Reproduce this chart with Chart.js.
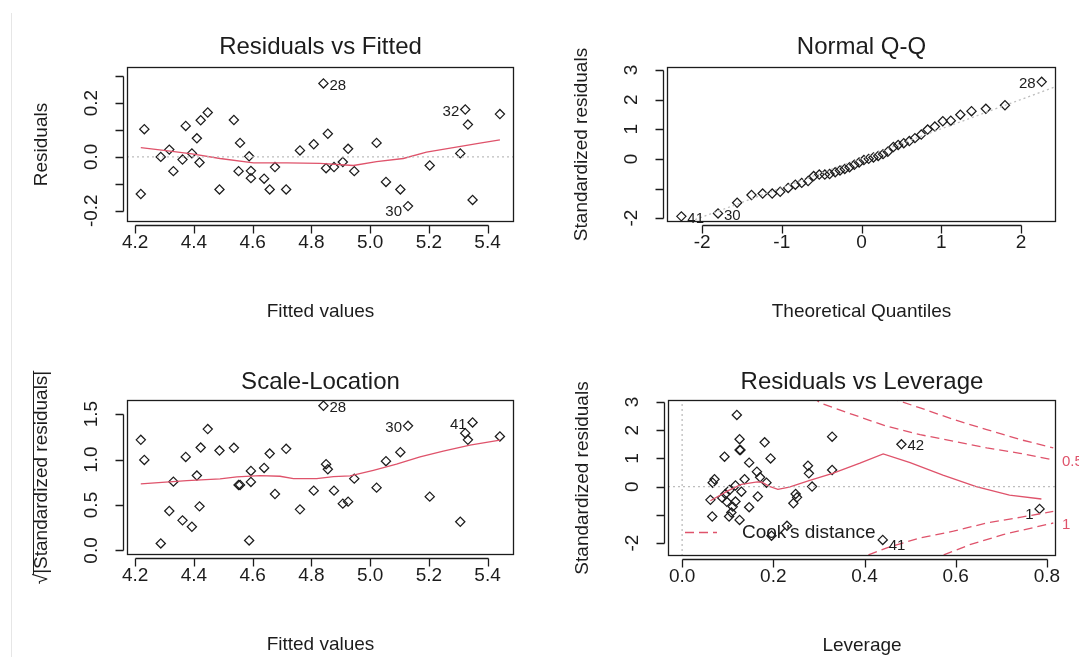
<!DOCTYPE html>
<html>
<head>
<meta charset="utf-8">
<title>lm diagnostics</title>
<script src="https://cdn.jsdelivr.net/npm/chart.js@4.4.1/dist/chart.umd.min.js"></script>
<style>
  body { margin: 0; background: #fff; }
  #page { position: relative; width: 1079px; height: 657px; overflow: hidden; background: #fff; }
  #edge { position: absolute; left: 11px; top: 13px; bottom: 0; width: 1px; background: #e6e6e6; }
  canvas { position: absolute; }
</style>
</head>
<body>
<div id="page">
  <div id="edge"></div>
  <canvas id="rvf" width="540" height="330" style="left:0;top:0"></canvas>
  <canvas id="qq" width="539" height="330" style="left:540px;top:0"></canvas>
  <canvas id="sl" width="540" height="327" style="left:0;top:330px"></canvas>
  <canvas id="lev" width="539" height="327" style="left:540px;top:330px"></canvas>
</div>
<script>
// ---- Residuals vs Fitted ----
const fitted = [4.219, 4.231, 4.287, 4.316, 4.330, 4.361, 4.372, 4.393, 4.410, 4.419, 4.423, 4.447, 4.487, 4.536,
  4.552, 4.557, 4.588, 4.594, 4.594, 4.639, 4.658, 4.676, 4.714, 4.761, 4.808, 4.841, 4.850, 4.856, 4.877, 4.907,
  4.925, 4.946, 5.022, 5.054, 5.103, 5.129, 5.203, 5.307, 5.324, 5.333, 5.349, 5.442];
const residuals = [-0.138, 0.103, 0.000, 0.027, -0.053, -0.010, 0.115, 0.013, 0.069, -0.021, 0.136, 0.165, -0.121,
  0.137, -0.053, 0.052, 0.002, -0.052, -0.079, -0.081, -0.121, -0.038, -0.121, 0.024, 0.047, 0.273, -0.042, 0.086,
  -0.038, -0.019, 0.030, -0.053, 0.052, -0.093, -0.121, -0.183, -0.032, 0.013, 0.176, 0.120, -0.160, 0.159];
const rvfSmoothX = [4.219, 4.319, 4.393, 4.489, 4.603, 4.716, 4.829, 4.943, 5.022, 5.113, 5.192, 5.283, 5.374, 5.442];
const rvfSmoothY = [0.034, 0.021, 0.011, -0.006, -0.022, -0.022, -0.024, -0.032, -0.018, -0.006, 0.018, 0.034, 0.051, 0.063];
const rvfIds = [[25, '28'], [38, '32'], [35, '30']];
const rvfXlim = [4.172, 5.49];
const rvfYlim = [-0.242, 0.334];
const rvfYTicks = [-0.2, -0.1, 0, 0.1, 0.2, 0.3];
const rvfYLabels = ['-0.2', '', '0.0', '', '0.2', ''];

// ---- Normal Q-Q ----
const theoQuantiles = [-2.26, -1.80, -1.56, -1.38, -1.24, -1.12, -1.02, -0.92, -0.83, -0.75, -0.67, -0.60, -0.53,
  -0.46, -0.40, -0.33, -0.27, -0.21, -0.15, -0.09, -0.03, 0.03, 0.09, 0.15, 0.21, 0.27, 0.33, 0.40, 0.46, 0.53,
  0.60, 0.67, 0.75, 0.83, 0.92, 1.02, 1.12, 1.24, 1.38, 1.56, 1.80, 2.26];
const stdResidSorted = [-1.94, -1.84, -1.48, -1.22, -1.17, -1.17, -1.11, -0.98, -0.87, -0.81, -0.75, -0.58, -0.53,
  -0.53, -0.51, -0.45, -0.39, -0.34, -0.28, -0.20, -0.12, -0.04, 0.00, 0.05, 0.10, 0.16, 0.24, 0.40, 0.47, 0.53,
  0.60, 0.70, 0.82, 0.99, 1.09, 1.27, 1.29, 1.49, 1.61, 1.69, 1.81, 2.60];
const qqLineX = [-2.44, 2.44];
const qqLineY = [-2.40, 2.44];
const qqIds = [[0, '41'], [1, '30'], [41, '28']];
const qqXlim = [-2.44, 2.44];
const qqYlim = [-2.13, 3.1];
const stdYTicks = [-2, -1, 0, 1, 2, 3];
const stdYLabels = ['-2', '', '0', '1', '2', '3'];

// ---- Scale-Location ----
const sqrtStdResid = [1.217, 0.996, 0.077, 0.434, 0.757, 0.331, 1.029, 0.261, 0.824, 0.485, 1.132, 1.335, 1.099,
  1.129, 0.721, 0.721, 0.110, 0.754, 0.875, 0.908, 1.066, 0.621, 1.118, 0.452, 0.658, 1.592, 0.949, 0.893, 0.658,
  0.515, 0.537, 0.790, 0.691, 0.982, 1.081, 1.371, 0.592, 0.316, 1.290, 1.217, 1.408, 1.254];
const slSmoothX = [4.219, 4.376, 4.489, 4.546, 4.625, 4.693, 4.739, 4.818, 4.875, 4.932, 5.011, 5.090, 5.170, 5.249, 5.340, 5.442];
const slSmoothY = [0.732, 0.768, 0.787, 0.809, 0.824, 0.816, 0.790, 0.790, 0.813, 0.820, 0.882, 0.949, 1.029, 1.092, 1.158, 1.213];
const slIds = [[25, '28'], [35, '30'], [40, '41']];
const slYlim = [-0.05, 1.655];
const slYTicks = [0, 0.5, 1, 1.5];
const slYLabels = ['0.0', '0.5', '1.0', '1.5'];

// ---- Residuals vs Leverage ----
const leverage = [0.120, 0.126, 0.126, 0.128, 0.181, 0.093, 0.194, 0.147, 0.164, 0.171, 0.185, 0.137, 0.117, 0.104,
  0.130, 0.071, 0.067, 0.062, 0.095, 0.098, 0.117, 0.111, 0.147, 0.166, 0.066, 0.103, 0.108, 0.126, 0.230, 0.196,
  0.276, 0.278, 0.285, 0.249, 0.252, 0.244, 0.329, 0.329, 0.481, 0.440, 0.784, 0.088];
const levStdResid = [2.54, 1.68, 1.30, 1.30, 1.57, 1.06, 1.00, 0.85, 0.53, 0.33, 0.14, 0.26, 0.04, -0.12, -0.18,
  0.26, 0.14, -0.47, -0.26, -0.54, -0.53, -0.71, -0.73, -0.35, -1.06, -1.06, -0.92, -1.18, -1.39, -1.74, 0.74,
  0.47, 0.00, -0.26, -0.38, -0.59, 1.77, 0.59, 1.50, -1.89, -0.79, -0.40];
const levSmoothX = [0.062, 0.100, 0.130, 0.165, 0.175, 0.190, 0.210, 0.235, 0.280, 0.330, 0.390, 0.441, 0.500, 0.572, 0.645, 0.718, 0.788];
const levSmoothY = [-0.50, -0.15, 0.08, 0.17, 0.16, 0.02, -0.10, -0.02, 0.22, 0.47, 0.83, 1.16, 0.85, 0.41, 0.00, -0.30, -0.44];
const cook05UpX = [0.285, 0.302, 0.375, 0.449, 0.522, 0.595, 0.668, 0.741, 0.814];
const cook05UpY = [3.20, 2.97, 2.55, 2.14, 1.84, 1.61, 1.37, 1.18, 0.95];
const cook1UpX = [0.455, 0.522, 0.595, 0.668, 0.741, 0.814];
const cook1UpY = [3.15, 2.79, 2.38, 2.02, 1.67, 1.37];
const cook05LoX = [0.380, 0.449, 0.522, 0.595, 0.668, 0.741, 0.814];
const cook05LoY = [-2.60, -2.17, -1.82, -1.58, -1.29, -1.09, -0.88];
const cook1LoX = [0.545, 0.631, 0.704, 0.814];
const cook1LoY = [-2.60, -2.06, -1.70, -1.29];
const levIds = [[38, '42'], [39, '41'], [40, '1']];
const levXlim = [-0.031, 0.82];
const levYlim = [-2.46, 3.07];

// ---- look ----
const INK = '#1c1c1c';
const RED = '#DF536B';
const GREY = '#bdbdbd';
const FONT = '"Liberation Sans", Arial, sans-serif';
const TITLE_SIZE = 24, LAB_SIZE = 19, ID_SIZE = 15;
const GAP = 3, TICK = 8, LW = 1.3;

const pts = (xs, ys) => xs.map((x, i) => ({ x: x, y: ys[i] }));
const points = (xs, ys) => ({ data: pts(xs, ys), pointStyle: 'rectRot', pointRadius: 4.6, borderColor: INK,
  backgroundColor: 'rgba(0,0,0,0)', borderWidth: 1.25, showLine: false });
const line = (xs, ys, color, dash) => ({ data: pts(xs, ys), showLine: true, pointRadius: 0, borderColor: color,
  borderWidth: LW, borderDash: dash || [], tension: 0 });

function drawIds(chart, ctx, ids, shiftNeg) {
  const { x, y } = chart.scales;
  const d = chart.data.datasets[chart.data.datasets.length - 1].data;
  const xs = ids.map(([i]) => d[i].x);
  const mid = (Math.min(...xs) + Math.max(...xs)) / 2;
  ctx.font = ID_SIZE + 'px ' + FONT;
  ctx.fillStyle = INK;
  ctx.textBaseline = 'middle';
  ids.forEach(([i, txt]) => {
    const px = x.getPixelForValue(d[i].x);
    const py = y.getPixelForValue(d[i].y) + 2 + (shiftNeg && d[i].y < 0 ? 4 : 0);
    const left = d[i].x > mid;
    ctx.textAlign = left ? 'right' : 'left';
    ctx.fillText(txt, px + (left ? -6 : 6), py);
  });
}

function panel(id, p) {
  const cv = document.getElementById(id);
  const W = cv.width, H = cv.height, A = p.area;
  const tLH = TITLE_SIZE * 1.2, lLH = LAB_SIZE * 1.2;
  const labFont = { family: FONT, size: LAB_SIZE, lineHeight: 1.2 };
  const axesPlugin = {
    id: 'rAxes',
    afterDraw(chart) {
      const { ctx, chartArea: a, scales: { x, y } } = chart;
      ctx.save();
      ctx.strokeStyle = INK;
      ctx.lineWidth = LW;
      ctx.setLineDash([]);
      ctx.strokeRect(Math.round(a.left) + 0.5, Math.round(a.top) + 0.5,
        Math.round(a.right - a.left) - 1, Math.round(a.bottom - a.top) - 1);
      // x axis
      const xt = x.ticks.map(t => Math.round(x.getPixelForValue(t.value)) + 0.5);
      const yb = Math.round(a.bottom) + GAP + 0.5;
      ctx.beginPath();
      ctx.moveTo(xt[0], yb); ctx.lineTo(xt[xt.length - 1], yb);
      xt.forEach(px => { ctx.moveTo(px, yb); ctx.lineTo(px, yb + TICK); });
      // y axis
      const yt = p.yTicks.map(v => Math.round(y.getPixelForValue(v)) + 0.5);
      const xl = Math.round(a.left) - GAP - 0.5;
      ctx.moveTo(xl, yt[0]); ctx.lineTo(xl, yt[yt.length - 1]);
      yt.forEach(py => { ctx.moveTo(xl, py); ctx.lineTo(xl - TICK, py); });
      ctx.stroke();
      ctx.fillStyle = INK;
      ctx.font = LAB_SIZE + 'px ' + FONT;
      ctx.textAlign = 'center';
      ctx.textBaseline = 'middle';
      p.yTicks.forEach((v, k) => {
        if (!p.yLabels[k]) return;
        ctx.save();
        ctx.translate(a.left - 35, y.getPixelForValue(v));
        ctx.rotate(-Math.PI / 2);
        ctx.fillText(p.yLabels[k], 0, 0);
        ctx.restore();
      });
      drawIds(chart, ctx, p.ids, p.shiftNeg);
      if (p.extra) p.extra(chart, ctx);
      ctx.restore();
    }
  };
  return new Chart(cv, {
    type: 'scatter',
    data: { datasets: p.datasets },
    options: {
      responsive: false,
      animation: false,
      events: [],
      layout: { padding: { left: 0, right: W - A.r, top: 0, bottom: 0 } },
      plugins: {
        legend: { display: false },
        tooltip: { enabled: false },
        title: {
          display: true, text: p.title, color: INK, fullSize: false,
          font: { family: FONT, size: TITLE_SIZE, weight: 'normal', lineHeight: 1.2 },
          padding: { top: p.titleY - tLH / 2, bottom: A.t - p.titleY - tLH / 2 }
        }
      },
      scales: {
        x: {
          type: 'linear', min: p.xlim[0], max: p.xlim[1],
          grid: { display: false, drawTicks: false }, border: { display: false },
          ticks: { stepSize: p.xStep, includeBounds: false, autoSkip: false, maxRotation: 0, color: INK,
            font: labFont, padding: 21 - lLH / 2, callback: v => Number(v).toFixed(p.xDigits) },
          title: { display: true, text: p.xTitle, color: INK, font: labFont,
            padding: { top: 0, bottom: H - (A.b + 89.5) - lLH / 2 } },
          afterFit: s => { s.height = H - A.b; }
        },
        y: {
          type: 'linear', min: p.ylim[0], max: p.ylim[1],
          grid: { display: false, drawTicks: false }, border: { display: false },
          ticks: { display: false },
          title: { display: true, text: p.yTitle, color: INK, font: labFont,
            padding: { top: A.l - 85 - lLH / 2, bottom: 0 } },
          afterFit: s => { s.width = A.l; }
        }
      }
    },
    plugins: [axesPlugin]
  });
}

panel('rvf', {
  title: 'Residuals vs Fitted', xTitle: 'Fitted values', yTitle: 'Residuals',
  area: { l: 127, r: 514, t: 67, b: 222 }, titleY: 47,
  xlim: rvfXlim, ylim: rvfYlim, xStep: 0.2, xDigits: 1,
  yTicks: rvfYTicks, yLabels: rvfYLabels, ids: rvfIds, shiftNeg: true,
  datasets: [
    line(rvfXlim, [0, 0], GREY, [2, 3]),
    line(rvfSmoothX, rvfSmoothY, RED),
    points(fitted, residuals)
  ]
});

panel('qq', {
  title: 'Normal Q-Q', xTitle: 'Theoretical Quantiles', yTitle: 'Standardized residuals',
  area: { l: 127, r: 516, t: 67, b: 222 }, titleY: 47,
  xlim: qqXlim, ylim: qqYlim, xStep: 1, xDigits: 0,
  yTicks: stdYTicks, yLabels: stdYLabels, ids: qqIds, shiftNeg: false,
  datasets: [
    line(qqLineX, qqLineY, GREY, [2, 3]),
    points(theoQuantiles, stdResidSorted)
  ]
});

panel('sl', {
  title: 'Scale-Location', xTitle: 'Fitted values', yTitle: '\u221A|Standardized residuals|',
  area: { l: 127, r: 514, t: 70, b: 225 }, titleY: 52,
  xlim: rvfXlim, ylim: slYlim, xStep: 0.2, xDigits: 1,
  yTicks: slYTicks, yLabels: slYLabels, ids: slIds, shiftNeg: false,
  datasets: [
    line(slSmoothX, slSmoothY, RED),
    points(fitted, sqrtStdResid)
  ],
  extra: (chart, ctx) => {
    // overbar of the square root in the y label
    const a = chart.chartArea;
    ctx.font = LAB_SIZE + 'px ' + FONT;
    const full = ctx.measureText('\u221A|Standardized residuals|').width;
    const root = ctx.measureText('\u221A').width;
    const cx = a.left - 85, cy = (a.top + a.bottom) / 2;
    ctx.strokeStyle = INK;
    ctx.lineWidth = 1;
    ctx.beginPath();
    ctx.moveTo(Math.round(cx - 9) + 0.5, cy + full / 2 - root + 1);
    ctx.lineTo(Math.round(cx - 9) + 0.5, cy - full / 2);
    ctx.stroke();
  }
});

panel('lev', {
  title: 'Residuals vs Leverage', xTitle: 'Leverage', yTitle: 'Standardized residuals',
  area: { l: 128, r: 516, t: 70, b: 226 }, titleY: 52,
  xlim: levXlim, ylim: levYlim, xStep: 0.2, xDigits: 1,
  yTicks: stdYTicks, yLabels: stdYLabels, ids: levIds, shiftNeg: true,
  datasets: [
    line(levXlim, [0, 0], GREY, [2, 3]),
    line([0, 0], levYlim, GREY, [2, 3]),
    line(cook05UpX, cook05UpY, RED, [9, 5]),
    line(cook1UpX, cook1UpY, RED, [9, 5]),
    line(cook05LoX, cook05LoY, RED, [9, 5]),
    line(cook1LoX, cook1LoY, RED, [9, 5]),
    line(levSmoothX, levSmoothY, RED),
    points(leverage, levStdResid)
  ],
  extra: (chart, ctx) => {
    const a = chart.chartArea, y = chart.scales.y;
    // Cook's distance legend
    const ly = Math.round(a.bottom - 24) + 0.5;
    ctx.strokeStyle = RED;
    ctx.lineWidth = LW;
    ctx.setLineDash([9, 5]);
    ctx.beginPath();
    ctx.moveTo(a.left + 17, ly); ctx.lineTo(a.left + 49, ly);
    ctx.stroke();
    ctx.setLineDash([]);
    ctx.fillStyle = INK;
    ctx.font = LAB_SIZE + 'px ' + FONT;
    ctx.textAlign = 'left';
    ctx.textBaseline = 'middle';
    ctx.fillText("Cook's distance", a.left + 74, ly);
    // contour levels in the right margin
    ctx.fillStyle = RED;
    ctx.font = '15px ' + FONT;
    ctx.fillText('0.5', a.right + 6, y.getPixelForValue(cook05UpY[cook05UpY.length - 1]) + 2);
    ctx.fillText('1', a.right + 6, y.getPixelForValue(cook1LoY[cook1LoY.length - 1]) + 2);
  }
});
</script>
</body>
</html>
